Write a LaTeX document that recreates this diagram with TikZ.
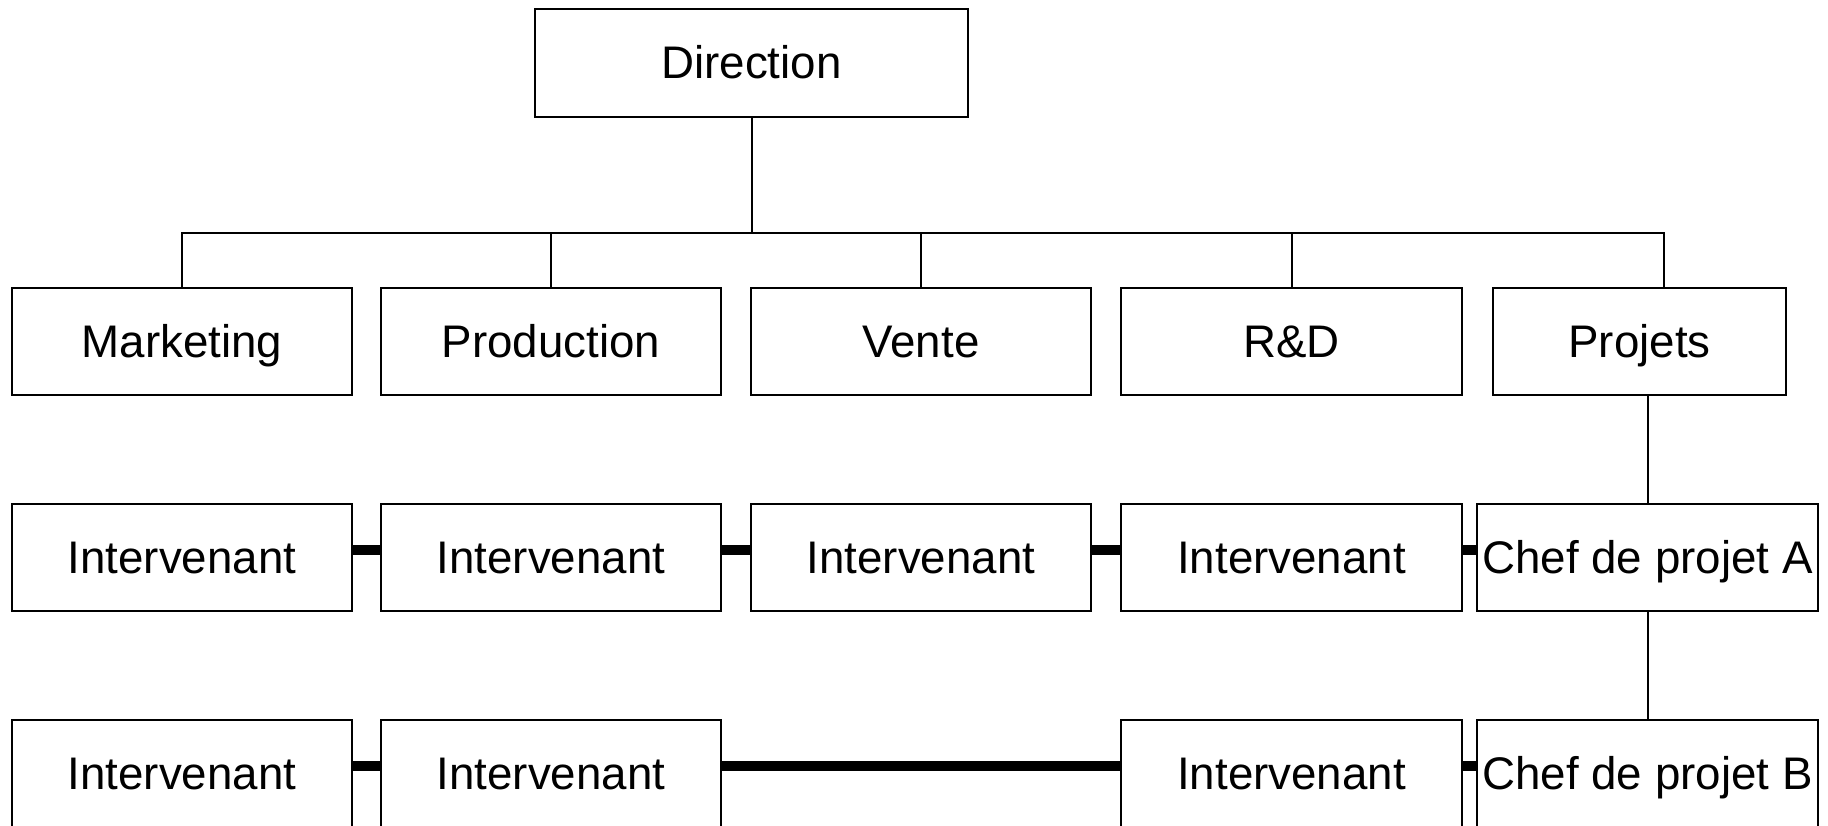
\documentclass[tikz,border=0pt]{standalone}
\usepackage{fontspec}
\setmainfont{Liberation Sans}
\usepackage{tikz}

\begin{document}
\begin{tikzpicture}
                            [line width=0.02cm,
                            box/.style = {draw, rectangle, inner sep=0pt,
                                        minimum width=3.4cm,
                                        minimum height=1.07cm,
                                        text height=0.42cm, text depth=0.1cm,
                                        font=\fontsize{13}{15}\selectfont},
                            bar/.style = {line width=0.1cm}]
                            \useasboundingbox (0,0) rectangle (18.28,-8.26);
                            % Direction
                            \node[box,minimum width=4.33cm,minimum height=1.08cm] (D) at (7.515,-0.63) {Direction};
                            % Services
                            \node[box] (Ma) at (1.82,-3.415) {Marketing};
                            \node[box] (Pr) at (5.51,-3.415) {Production};
                            \node[box] (Ve) at (9.21,-3.415) {Vente};
                            \node[box,minimum width=3.41cm] (RD) at (12.915,-3.415) {R\&D};
                            \node[box,minimum width=2.93cm] (Pj) at (16.395,-3.415) {Projets};
                            % Projet A
                            \node[box] (A1) at (1.82,-5.575) {Intervenant};
                            \node[box] (A2) at (5.51,-5.575) {Intervenant};
                            \node[box] (A3) at (9.21,-5.575) {Intervenant};
                            \node[box,minimum width=3.41cm] (A4) at (12.915,-5.575) {Intervenant};
                            \node[box,minimum width=3.41cm] (CA) at (16.475,-5.575) {Chef de projet A};
                            % Projet B
                            \node[box] (B1) at (1.82,-7.735) {Intervenant};
                            \node[box] (B2) at (5.51,-7.735) {Intervenant};
                            \node[box,minimum width=3.41cm] (B4) at (12.915,-7.735) {Intervenant};
                            \node[box,minimum width=3.41cm] (CB) at (16.475,-7.735) {Chef de projet B};
                            % Organigramme
                            \coordinate (bus) at (0,-2.33);
                            \coordinate (Pjtop) at ([xshift=0.245cm]Pj.north);
                            \draw (Ma.north) -- (Ma.north |- bus) -- (Pjtop |- bus) -- (Pjtop);
                            \draw (D.south) -- (D.south |- bus);
                            \draw (Pr.north) -- (Pr.north |- bus);
                            \draw (Ve.north) -- (Ve.north |- bus);
                            \draw (RD.north) -- (RD.north |- bus);
                            \draw (CA.north) -- (CA.north |- Pj.south);
                            \draw (CA.south) -- (CB.north);
                            % Liens entre intervenants
                            \draw[bar] ([yshift=0.8mm]A1.east) -- ([yshift=0.8mm]A2.west);
                            \draw[bar] ([yshift=0.8mm]A2.east) -- ([yshift=0.8mm]A3.west);
                            \draw[bar] ([yshift=0.8mm]A3.east) -- ([yshift=0.8mm]A4.west);
                            \draw[bar] ([yshift=0.8mm]A4.east) -- ([yshift=0.8mm]CA.west);
                            \draw[bar] ([yshift=0.8mm]B1.east) -- ([yshift=0.8mm]B2.west);
                            \draw[bar] ([yshift=0.8mm]B2.east) -- ([yshift=0.8mm]B4.west);
                            \draw[bar] ([yshift=0.8mm]B4.east) -- ([yshift=0.8mm]CB.west);
                        \end{tikzpicture}
\end{document}
